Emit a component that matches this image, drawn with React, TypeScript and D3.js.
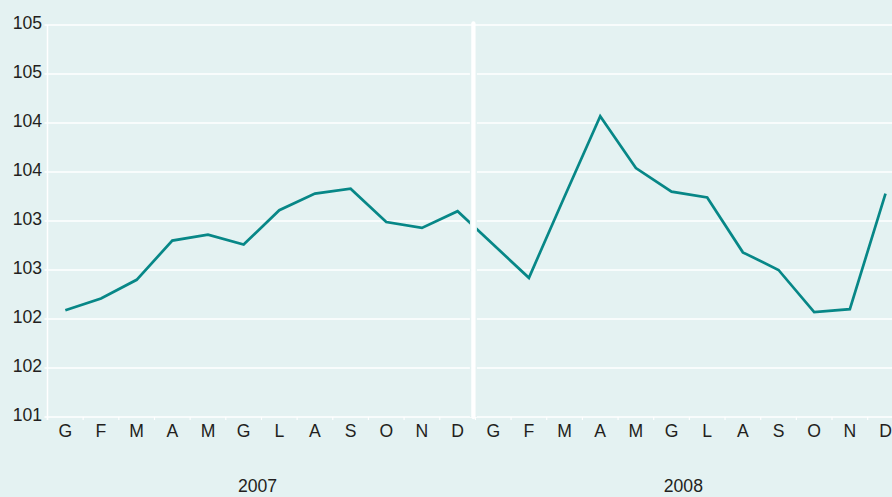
import React from "react";
import * as d3 from "d3";

const years = ["2007", "2008"];
const months = ["G", "F", "M", "A", "M", "G", "L", "A", "S", "O", "N", "D"];
const values2007 = [102.09, 102.21, 102.4, 102.8, 102.86, 102.76, 103.11, 103.28, 103.33, 102.99, 102.93, 103.1];
const values2008 = [102.76, 102.42, 103.25, 104.07, 103.54, 103.3, 103.24, 102.68, 102.5, 102.07, 102.1, 103.28];
const yTickValues = [101, 101.5, 102, 102.5, 103, 103.5, 104, 104.5, 105];
const yTickLabels = ["101", "102", "102", "103", "103", "104", "104", "105", "105"];

const W = 892;
const H = 497;
const BG = "#e4f2f2";
const LINE = "#078787";
const TEXT = "#231f20";
const FONT = "'Liberation Sans', Arial, Helvetica, sans-serif";
const FS = 17.6;

export default function App() {
  const allValues = [...values2007, ...values2008];
  const labels = [...months, ...months];
  const idx = allValues.map((_, i) => i);
  const left = 47.5;
  const step = 35.66;
  const x = d3.scaleBand<number>().domain(idx).range([left, left + step * idx.length]).padding(0);
  const bw = x.bandwidth();
  const cx = (i: number) => (x(i) as number) + bw / 2;
  const y = d3.scaleLinear().domain([101, 105]).range([417, 25]);

  const line = d3
    .line<number>()
    .x((_, i) => cx(i))
    .y((d) => y(d));

  const sepX = (x(12) as number) - 2;

  return (
    <svg width={W} height={H} style={{ position: "absolute", left: 0, top: 0 }} fontFamily={FONT}>
      <rect x={0} y={0} width={W} height={H} fill={BG} />
      {yTickValues.map((v, i) => (
        <g key={i}>
          <line x1={left - 3} x2={W} y1={y(v)} y2={y(v)} stroke="#fff" strokeWidth={1.5} />
          <text x={42} y={y(v) + 3.5} textAnchor="end" fontSize={FS} fill={TEXT}>
            {yTickLabels[i]}
          </text>
        </g>
      ))}
      <line x1={left} x2={left} y1={y(105)} y2={y(101) + 3} stroke="#fff" strokeWidth={1.5} />
      {idx.map((i) => (
        <line key={i} x1={x(i) as number} x2={x(i) as number} y1={y(101)} y2={y(101) + 3} stroke="#fff" strokeWidth={1.2} />
      ))}
      {labels.map((m, i) => (
        <text key={i} x={cx(i)} y={437} textAnchor="middle" fontSize={FS} fill={TEXT}>
          {m}
        </text>
      ))}
      {years.map((yr, k) => (
        <text key={yr} x={(x(k * 12 + 6) as number) - 4 - 2 * k} y={492} textAnchor="middle" fontSize={FS} fill={TEXT}>
          {yr}
        </text>
      ))}
      <path d={line(allValues) || ""} fill="none" stroke={LINE} strokeWidth={2.7} strokeLinejoin="miter" />
      <line x1={sepX} x2={sepX} y1={y(104.7)} y2={y(101)} stroke={BG} strokeWidth={7} />
      <line x1={sepX} x2={sepX} y1={23.5} y2={y(101)} stroke="#fff" strokeWidth={4.3} strokeLinecap="round" />
    </svg>
  );
}
